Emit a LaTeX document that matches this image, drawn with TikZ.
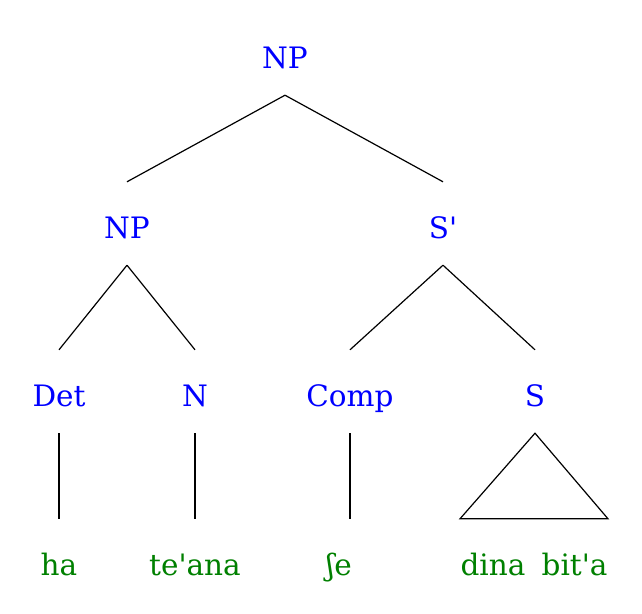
\documentclass[tikz,border=0pt]{standalone}
\usepackage{fontspec}
\setmainfont[Ligatures=TeXOff]{DejaVu Serif}
\usetikzlibrary{calc}
\definecolor{catblue}{rgb}{0,0,1}
\definecolor{wordgreen}{rgb}{0,0.5,0}
\begin{document}
\begin{tikzpicture}[x=1pt, y=-1pt,
  cat/.style = {anchor=base, text=catblue, font=\fontsize{29.5}{35}\selectfont,
    text height=36pt, text depth=7pt, inner ysep=20pt, inner xsep=0pt},
  word/.style = {cat, text=wordgreen},
  branch/.style = {draw=black, line width=1.2pt}]
\useasboundingbox (0,0) rectangle (642,613);
% categories
\node[cat] (np) at (285,68) {NP};
\node[cat] (np2) at (127,238) {NP};
\node[cat] (sbar) at (443,238) {S'};
\node[cat] (det) at (59,406) {Det};
\node[cat] (n) at (195,406) {N};
\node[cat] (comp) at (350,406) {Comp};
\node[cat] (s) at (535,406) {S};
% words
\node[word] (ha) at (59,575) {ha};
\node[word] (teana) at (195,575) {te'ana};
\node[word] (she) at (339,575) {ʃe};
\node[word] (dina) at (534,575) {dina\hspace{0.55em}bit'a};
% branches
\foreach \a/\b in {np/np2, np/sbar, np2/det, np2/n, sbar/comp, sbar/s, det/ha, n/teana}
  \draw[branch] (\a.south) -- (\b.north);
\draw[branch] (comp.south) -- (comp.south |- she.north);
\draw[branch] (s.south) -- ($(dina.north)+(-74,0)$) -- ($(dina.north)+(74,0)$) -- cycle;
\end{tikzpicture}
\end{document}
